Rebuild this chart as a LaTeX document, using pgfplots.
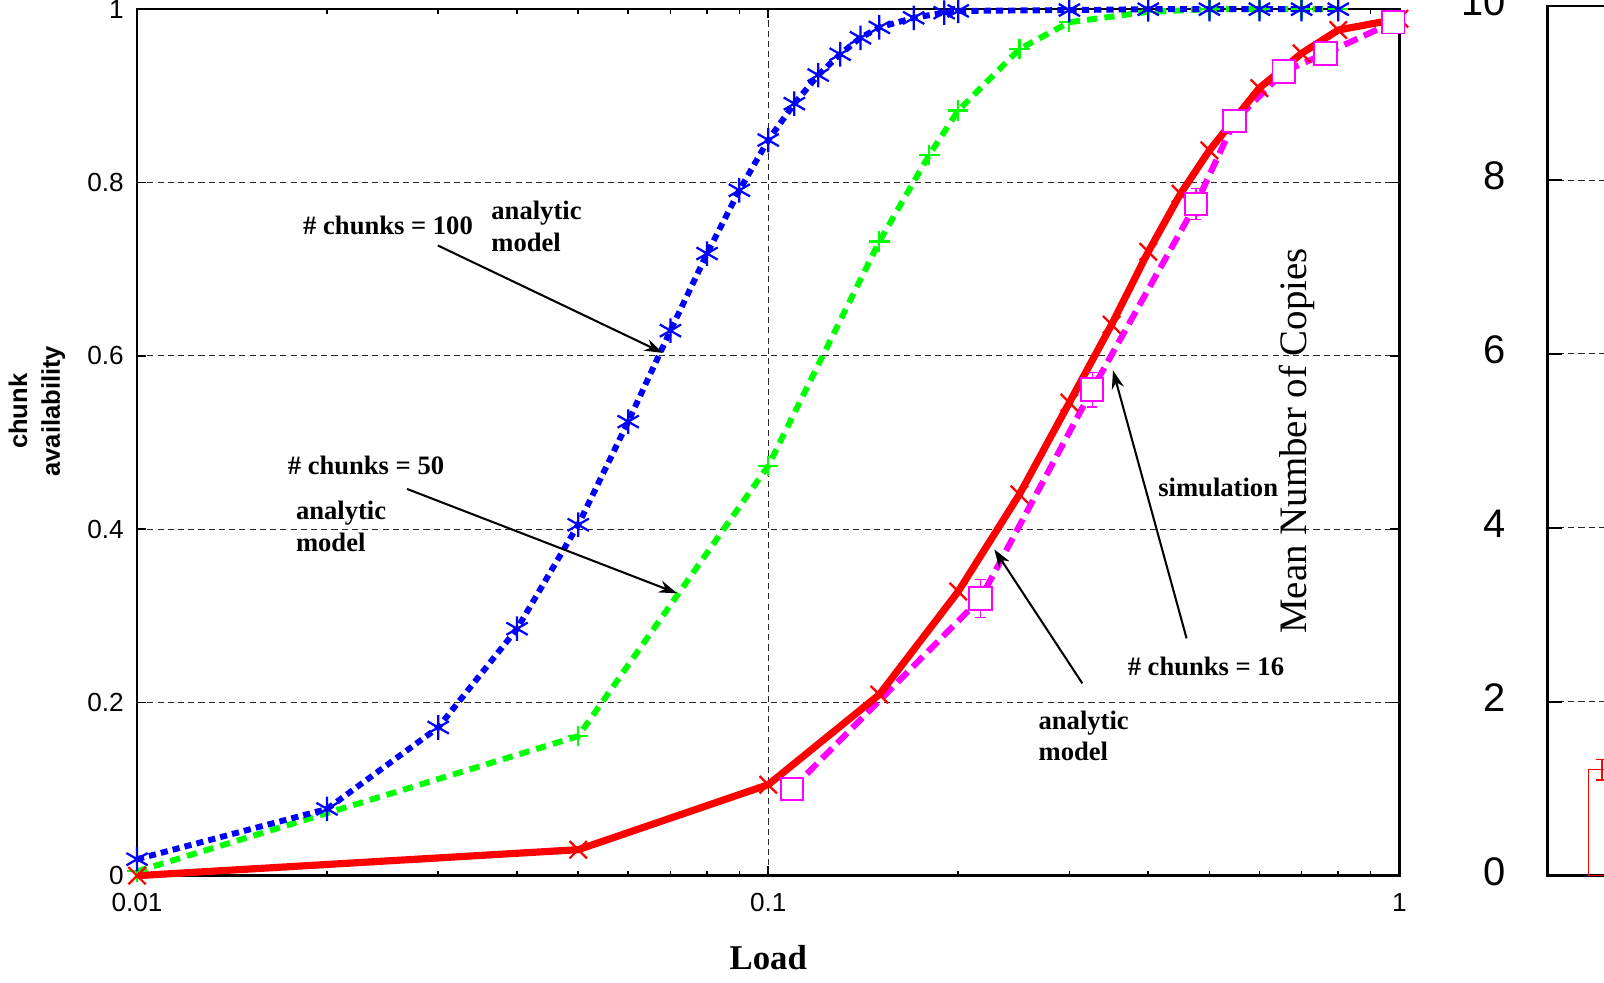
\documentclass[border=0pt]{standalone}
\usepackage{pgfplots}
\pgfplotsset{compat=1.18}
\usepackage{pgfplotstable}
\usepackage{fontspec}
\setmainfont{Liberation Serif}
\setsansfont{Liberation Sans}
\usetikzlibrary{arrows.meta}
\definecolor{pblue}{RGB}{0,0,255}
\definecolor{pgreen}{RGB}{0,255,0}
\definecolor{pred}{RGB}{255,0,0}
\definecolor{pmag}{RGB}{255,0,255}

\pgfplotstableread{
x y
0.01 0.019
0.02 0.077
0.03 0.171
0.04 0.285
0.05 0.405
0.06 0.524
0.07 0.629
0.08 0.718
0.09 0.791
0.10 0.849
0.11 0.891
0.12 0.924
0.13 0.948
0.14 0.967
0.15 0.979
0.17 0.990
0.19 0.996
0.20 0.998
0.30 0.999
0.40 1.0
0.50 1.0
0.60 1.0
0.70 1.0
0.80 1.0
}\blue

\pgfplotstableread{
x y
0.01 0.005
0.05 0.161
0.10 0.473
0.15 0.732
0.18 0.832
0.20 0.883
0.25 0.954
0.30 0.985
0.40 0.997
0.50 1.0
0.60 1.0
0.70 1.0
0.80 1.0
}\green

\pgfplotstableread{
x y
0.01 0.0
0.05 0.030
0.10 0.105
0.15 0.209
0.20 0.328
0.25 0.440
0.30 0.546
0.35 0.636
0.40 0.720
0.45 0.787
0.50 0.837
0.60 0.909
0.70 0.949
0.80 0.976
1.00 0.989
}\red

\pgfplotstableread{
x y e
0.109 0.100 0.010
0.217 0.320 0.022
0.326 0.561 0.020
0.476 0.775 0.018
0.548 0.871 0.012
0.656 0.928 0.010
0.764 0.949 0.010
0.978 0.985 0.008
}\sim

\begin{document}
\begin{tikzpicture}
\path[use as bounding box] (0,0) rectangle (784pt,480pt);
\clip (0,0) rectangle (784pt,480pt);

\begin{axis}[
  at={(67pt,52pt)}, anchor=south west,
  width=617pt, height=423.5pt, scale only axis,
  xmode=log, xmin=0.01, xmax=1, ymin=0, ymax=1,
  xtick={0.01,0.1,1}, xticklabels={0.01,0.1,1},
  ytick={0,0.2,0.4,0.6,0.8,1}, yticklabels={0,0.2,0.4,0.6,0.8,1},
  grid=major,
  major grid style={black!85, line width=0.5pt, dash pattern=on 3pt off 2pt},
  axis line style={line width=1.25pt},
  major tick length=4.5pt, minor tick length=2.5pt,
  every tick/.style={black, line width=0.8pt},
  tick label style={font=\sffamily\fontsize{12.8}{14}\selectfont},
  xticklabel style={yshift=-5pt},
  yticklabel style={xshift=-3pt},
  xlabel={Load},
  xlabel style={font=\bfseries\fontsize{17}{20}\selectfont, at={(axis description cs:0.5,-0.0945)}, anchor=center},
  ylabel={chunk\\availability},
  ylabel style={font=\sffamily\bfseries\fontsize{12.5}{16}\selectfont, align=center, at={(axis description cs:-0.0794,0.536)}, anchor=center},
  clip=false,
]
\addplot[pgreen, line width=2.9pt, dash pattern=on 5pt off 3.5pt, mark=+, mark size=5pt, mark options={solid, line width=1.1pt}] table[x=x,y=y] {\green};
\addplot[pblue, line width=2.9pt, dash pattern=on 3.5pt off 2.5pt, mark=asterisk, mark size=6pt, mark options={solid, line width=1.1pt}] table[x=x,y=y] {\blue};
\addplot[pmag, line width=3pt, dash pattern=on 7pt off 3.5pt, mark=none] table[x=x,y=y] {\sim};
\addplot[pred, line width=3.5pt, mark=x, mark size=6pt, mark options={solid, line width=1.1pt}] table[x=x,y=y] {\red};
\addplot[pmag, only marks, mark=square*, mark size=5.5pt, mark options={fill=white, draw=pmag, line width=0.9pt},
  error bars/.cd, y dir=both, y explicit, error bar style={pmag, line width=0.6pt}, error mark options={rotate=90, mark size=2.5pt, pmag, line width=0.6pt}]
  table[x=x,y=y,y error=e] {\sim};

\tikzset{ann/.style={font=\bfseries\fontsize{13}{15.5}\selectfont, align=left, anchor=west, inner sep=0pt},
  arr/.style={line width=1pt, -{Stealth[length=9pt,width=6pt]}}}
\node[ann] at (axis description cs:0.1313,0.751) {\# chunks = 100};
\node[ann] at (axis description cs:0.2804,0.749) {analytic\\model};
\draw[arr] (axis description cs:0.2383,0.7273) -- (axis description cs:0.4165,0.6033);
\node[ann] at (axis description cs:0.1191,0.4734) {\# chunks = 50};
\node[ann] at (axis description cs:0.1256,0.4032) {analytic\\model};
\draw[arr] (axis description cs:0.2139,0.4463) -- (axis description cs:0.4279,0.3259);
\node[ann] at (axis description cs:0.8087,0.4475) {simulation};
\node[ann] at (axis description cs:0.7845,0.2409) {\# chunks = 16};
\draw[arr] (axis description cs:0.8314,0.2739) -- (axis description cs:0.7731,0.5832);
\node[ann] at (axis description cs:0.7139,0.1612) {analytic\\model};
\draw[arr] (axis description cs:0.7488,0.2220) -- (axis description cs:0.6791,0.3766);
\end{axis}

\begin{axis}[
  at={(756.5pt,52pt)}, anchor=south west,
  width=300pt, height=425pt, scale only axis,
  xmin=0, xmax=10, ymin=0, ymax=10,
  xtick=\empty, ytick={0,2,4,6,8,10},
  ymajorgrids,
  major grid style={black!85, line width=0.5pt, dash pattern=on 3pt off 2pt},
  axis line style={line width=1.25pt},
  major tick length=7pt,
  every tick/.style={black, line width=0.8pt},
  tick label style={font=\sffamily\fontsize{19.5}{22}\selectfont},
  /pgf/number format/assume math mode=true,
  yticklabel style={xshift=-17pt, yshift=2pt},
  ylabel={Mean Number of Copies},
  ylabel style={font=\fontsize{19}{22}\selectfont, at={(axis description cs:-0.408,0.5)}, anchor=center},
]
\addplot[ybar, bar width=0.433, draw=pred, fill=none, line width=0.6pt,
  error bars/.cd, y dir=both, y explicit, error bar style={pred, line width=0.6pt}, error mark options={rotate=90, mark size=3pt, pred, line width=0.6pt}]
  coordinates {(0.883,1.22) +- (0,0.12)};
\end{axis}
\end{tikzpicture}
\end{document}
